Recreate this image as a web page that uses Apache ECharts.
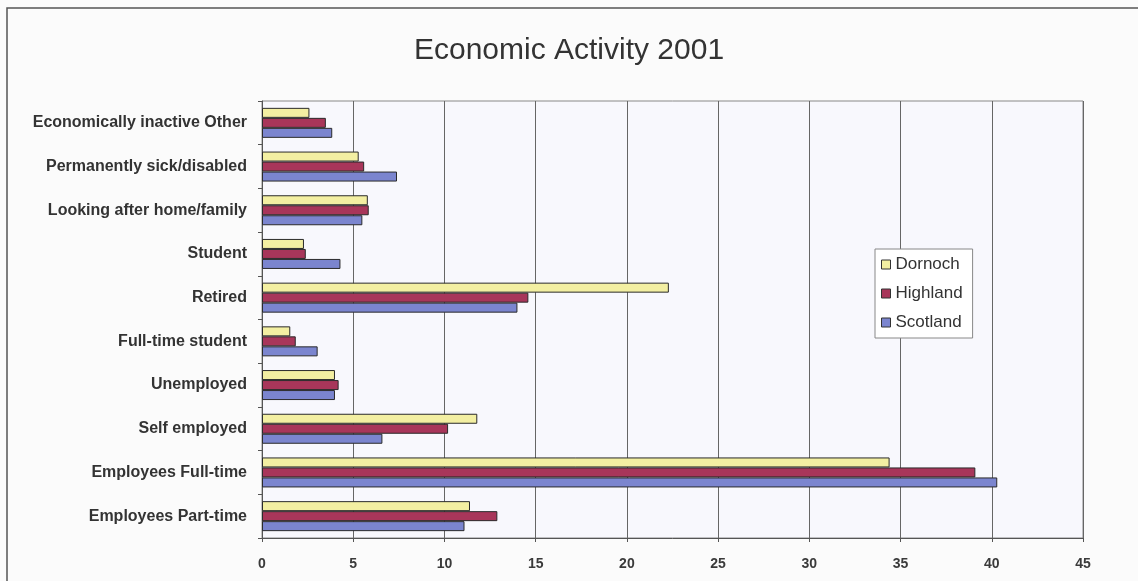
<!DOCTYPE html>
<html>
<head>
<meta charset="utf-8">
<title>Economic Activity 2001</title>
<script src="https://cdn.jsdelivr.net/npm/echarts@6/dist/echarts.min.js"></script>
<style>
  html, body { margin: 0; padding: 0; background: #fbfbfb; }
  #chart { width: 1138px; height: 581px; }
</style>
</head>
<body>
<div id="chart"></div>
<script>
// ---- data (percent of residents aged 16-74) ----
const categories = [
    'Employees Part-time',
    'Employees Full-time',
    'Self employed',
    'Unemployed',
    'Full-time student',
    'Retired',
    'Student',
    'Looking after home/family',
    'Permanently sick/disabled',
    'Economically inactive Other'
];
const dornoch  = [11.4, 34.4, 11.8, 4.0, 1.55, 22.3, 2.3, 5.8, 5.3, 2.6];
const highland = [12.9, 39.1, 10.2, 4.2, 1.85, 14.6, 2.4, 5.85, 5.6, 3.5];
const scotland = [11.1, 40.3, 6.6, 4.0, 3.05, 14.0, 4.3, 5.5, 7.4, 3.85];
const xTicks = { min: 0, max: 45, step: 5 };

const colors = { Dornoch: '#f3efa2', Highland: '#a8365a', Scotland: '#7b85cf' };
const font = 'Liberation Sans';

function barSeries(name, values) {
    return {
        name: name,
        type: 'bar',
        data: values,
        barWidth: 10,
        barGap: '0%',
        itemStyle: { color: colors[name], borderColor: '#2a2a2a', borderWidth: 1 }
    };
}

const chart = echarts.init(document.getElementById('chart'));
chart.setOption({
    animation: false,
    backgroundColor: '#fbfbfb',
    title: {
        text: 'Economic Activity 2001',
        left: 'center',
        top: 31,
        textStyle: { fontFamily: font, fontSize: 30, fontWeight: 'normal', color: '#333' }
    },
    graphic: [{
        type: 'rect',
        shape: { x: 7, y: 8, width: 1140, height: 600 },
        style: { fill: 'none', stroke: '#555', lineWidth: 1.5 },
        silent: true
    }],
    legend: {
        orient: 'vertical',
        data: ['Dornoch', 'Highland', 'Scotland'],
        left: 875,
        top: 249,
        itemWidth: 9,
        itemHeight: 9,
        itemGap: 12,
        padding: [7, 10, 7, 6],
        backgroundColor: '#fff',
        borderColor: '#888',
        borderWidth: 1,
        icon: 'rect',
        itemStyle: { borderColor: '#333', borderWidth: 1 },
        textStyle: { fontFamily: font, fontSize: 17, color: '#333' }
    },
    grid: { left: 262, right: 55, top: 101, bottom: 43, show: true, backgroundColor: '#f8f8fd', borderColor: '#888', borderWidth: 1 },
    xAxis: {
        type: 'value',
        min: xTicks.min,
        max: xTicks.max,
        interval: xTicks.step,
        axisLine: { show: true, lineStyle: { color: '#555' } },
        axisTick: { show: true, length: 4, lineStyle: { color: '#555' } },
        axisLabel: { margin: 19, fontFamily: font, fontSize: 14, fontWeight: 'bold', color: '#3a3a3a' },
        splitLine: { show: true, lineStyle: { color: '#666', width: 1 } }
    },
    yAxis: {
        type: 'category',
        data: categories,
        axisLine: { show: true, lineStyle: { color: '#555' } },
        axisTick: { show: true, length: 4, lineStyle: { color: '#555' } },
        axisLabel: { margin: 15, fontFamily: font, fontSize: 16, fontWeight: 'bold', color: '#333' },
        splitLine: { show: false }
    },
    series: [
        barSeries('Dornoch', dornoch),
        barSeries('Highland', highland),
        barSeries('Scotland', scotland)
    ]
});
</script>
</body>
</html>
